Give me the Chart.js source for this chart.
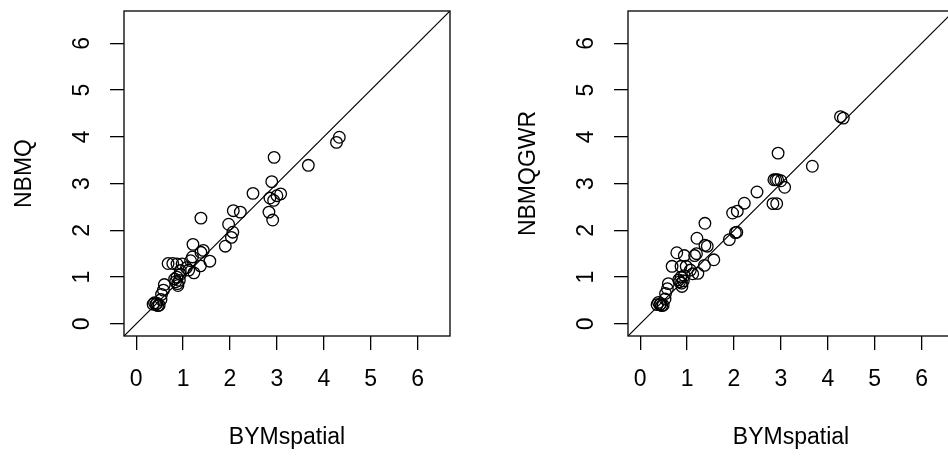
<!DOCTYPE html>
<html lang="en">
<head>
    <meta charset="UTF-8">
    <title>BYMspatial vs NBMQ / NBMQGWR</title>
    <script src="https://cdn.jsdelivr.net/npm/chart.js"></script>
    <style>
        body { margin: 0; background: #fff; }
        #wrap { position: relative; width: 948px; height: 457px; overflow: hidden; background: #fff; }
        .panel { position: absolute; top: 0; width: 474px; height: 457px; }
    </style>
</head>
<body>
    <div id="wrap">
        <div class="panel" style="left:0"><canvas id="leftChart" width="474" height="457"></canvas></div>
        <div class="panel" style="left:504px"><canvas id="rightChart" width="474" height="457"></canvas></div>
    </div>

    <script>
        // BYMspatial estimates (shared x for both panels)
        const bymSpatial = [4.33, 4.27, 3.67, 2.94, 2.89, 2.85, 3.08, 3.00, 2.93, 2.83,
            2.91, 2.49, 2.22, 2.07, 1.97, 2.06, 2.03, 1.90, 1.38, 1.21,
            1.43, 1.38, 1.57, 1.37, 1.16, 1.20, 1.23, 0.78, 0.68, 0.87,
            0.98, 0.94, 1.07, 1.12, 0.94, 0.87, 0.82, 0.88, 0.89, 0.60,
            0.58, 0.53, 0.36, 0.42, 0.46, 0.49, 0.39, 0.44, 0.84, 0.92, 0.54];
        const nbmq = [3.99, 3.88, 3.39, 3.56, 3.04, 2.69, 2.78, 2.74, 2.64, 2.39,
            2.22, 2.79, 2.39, 2.42, 2.13, 1.96, 1.85, 1.66, 2.26, 1.70,
            1.57, 1.53, 1.34, 1.24, 1.35, 1.43, 1.09, 1.29, 1.29, 1.28,
            1.28, 1.14, 1.20, 1.15, 1.06, 1.00, 0.96, 0.86, 0.82, 0.84,
            0.72, 0.52, 0.42, 0.42, 0.39, 0.40, 0.45, 0.44, 0.90, 0.93, 0.63];
        const nbmqGwr = [4.40, 4.43, 3.37, 3.65, 3.08, 3.08, 2.92, 3.06, 3.08, 2.57,
            2.57, 2.82, 2.58, 2.41, 2.37, 1.96, 1.95, 1.80, 2.15, 1.83,
            1.66, 1.68, 1.37, 1.25, 1.46, 1.50, 1.08, 1.52, 1.23, 1.23,
            1.23, 1.46, 1.15, 1.07, 1.03, 1.00, 0.94, 0.87, 0.80, 0.86,
            0.75, 0.53, 0.41, 0.41, 0.39, 0.40, 0.46, 0.43, 0.90, 0.92, 0.65];
        const tickValues = [0, 1, 2, 3, 4, 5, 6];
        const axisLimits = [-0.26, 6.69];

        const fontFamily = '"Liberation Sans", Arial, Helvetica, sans-serif';

        // R-style box around the plotting region
        const boxPlugin = {
            id: 'box',
            afterDraw(chart) {
                const { ctx, chartArea: a } = chart;
                ctx.save();
                ctx.strokeStyle = '#000';
                ctx.lineWidth = 1.3;
                ctx.strokeRect(a.left, a.top, a.right - a.left, a.bottom - a.top);
                ctx.restore();
            }
        };

        function axisOpts(title, vertical) {
            return {
                type: 'linear',
                min: axisLimits[0],
                max: axisLimits[1],
                afterBuildTicks: scale => { scale.ticks = tickValues.map(v => ({ value: v })); },
                afterFit: scale => {
                    if (vertical) scale.width = 124; else scale.height = 121;
                    scale.paddingTop = 0;
                    scale.paddingBottom = 0;
                    scale.paddingLeft = 0;
                    scale.paddingRight = 0;
                },
                grid: { drawOnChartArea: false, drawTicks: true, tickLength: 14, color: '#000', lineWidth: 1.3 },
                border: { display: false },
                ticks: {
                    color: '#000',
                    font: { family: fontFamily, size: 23 },
                    padding: vertical ? 21 : 16,
                    minRotation: vertical ? 90 : 0,
                    maxRotation: vertical ? 90 : 0,
                    crossAlign: vertical ? 'center' : 'near'
                },
                title: {
                    display: true,
                    text: title,
                    color: '#000',
                    font: { family: fontFamily, size: 23 },
                    padding: vertical ? { top: 11, bottom: 0 } : { top: 0, bottom: 6 }
                }
            };
        }

        function makeChart(id, yValues, yTitle) {
            const points = bymSpatial.map((x, i) => ({ x: x, y: yValues[i] }));
            new Chart(document.getElementById(id), {
                type: 'scatter',
                data: {
                    datasets: [
                        {
                            data: points,
                            pointStyle: 'circle',
                            pointRadius: 5.8,
                            borderColor: '#000',
                            backgroundColor: 'rgba(0,0,0,0)',
                            borderWidth: 1.3
                        },
                        {
                            data: [{ x: axisLimits[0], y: axisLimits[0] }, { x: axisLimits[1], y: axisLimits[1] }],
                            showLine: true,
                            pointRadius: 0,
                            borderColor: '#000',
                            borderWidth: 1.2
                        }
                    ]
                },
                options: {
                    responsive: false,
                    animation: false,
                    layout: { padding: { top: 11, right: 24, left: 0, bottom: 0 } },
                    plugins: { legend: { display: false }, tooltip: { enabled: false } },
                    scales: {
                        x: axisOpts('BYMspatial', false),
                        y: axisOpts(yTitle, true)
                    }
                },
                plugins: [boxPlugin]
            });
        }

        makeChart('leftChart', nbmq, 'NBMQ');
        makeChart('rightChart', nbmqGwr, 'NBMQGWR');
    </script>
</body>
</html>
